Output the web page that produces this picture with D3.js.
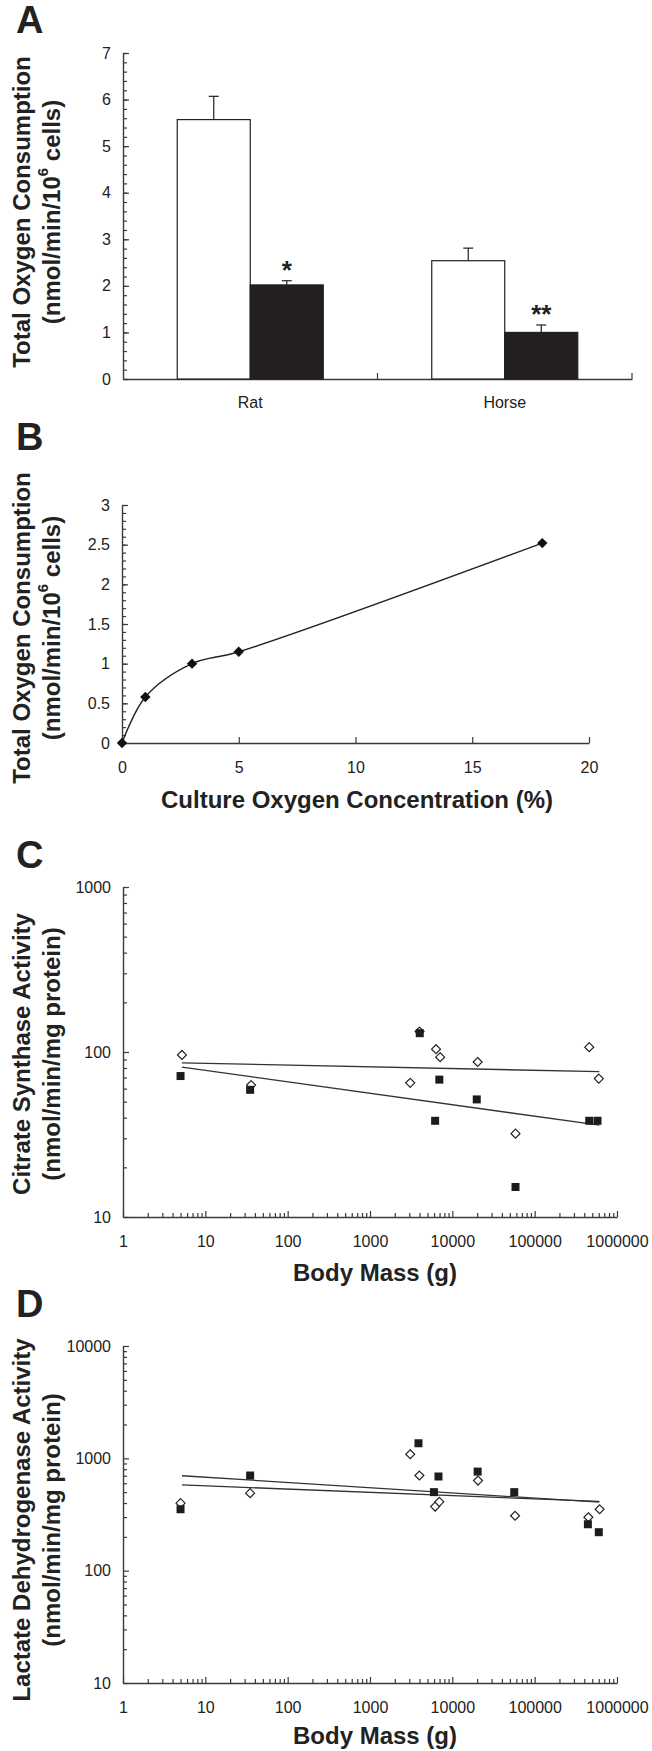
<!DOCTYPE html>
<html>
<head>
<meta charset="utf-8">
<script src="https://cdn.jsdelivr.net/npm/d3@7"></script>
<style>
  body { margin: 0; background: #fff; }
  svg { display: block; }
</style>
</head>
<body>
<svg width="652" height="1751"></svg>
<script>
// ---- data ----
// A: total O2 consumption, control (open) vs treated (filled)
const speciesA = ["Rat", "Horse"];
const seriesA = ["open", "filled"];
const valuesOpenA = [5.57, 2.54];
const valuesFilledA = [2.02, 1.00];
const errOpenA = [0.50, 0.27];
const errFilledA = [0.09, 0.16];
const sigA = ["*", "**"];

// B: O2 consumption vs culture O2 concentration
const o2Conc = [0, 1, 3, 5, 18];
const o2Cons = [0, 0.58, 1.0, 1.15, 2.52];

// C: citrate synthase vs body mass
const csOpenMass = [5.2, 36, 3080, 4000, 6340, 7110, 20300, 58500, 460000, 601000];
const csOpenVal = [96, 63, 65, 133, 104, 93, 87, 32, 107, 69];
const csFilledMass = [5.0, 35, 4020, 6180, 6950, 19800, 58500, 460000, 580000];
const csFilledVal = [71.5, 59, 130, 38.3, 68, 51.6, 15.2, 38.3, 38.3];
const csTrendMass = [5.2, 610000];
const csTrendOpen = [86, 76];
const csTrendFilled = [81, 36];

// D: lactate dehydrogenase vs body mass
const ldhOpenMass = [5.0, 35, 3080, 3980, 6180, 6950, 20500, 57800, 449000, 615000];
const ldhOpenVal = [399, 490, 1088, 703, 372, 410, 634, 308, 299, 352];
const ldhFilledMass = [5.0, 35, 3880, 5980, 6790, 20300, 56500, 443000, 601000];
const ldhFilledVal = [352, 703, 1362, 500, 689, 762, 500, 259, 220];
const ldhTrendMass = [5.2, 610000];
const ldhTrendOpen = [580, 413];
const ldhTrendFilled = [700, 407];

// ---- helpers ----
const FONT = "'Liberation Sans', Arial, Helvetica, sans-serif";
const AXIS_COLOR = "#3a3a3a";
const INK = "#222";
const svg = d3.select("svg");

function styleAxis(g) {
  g.attr("font-family", FONT).attr("font-size", 16).attr("color", AXIS_COLOR);
  g.selectAll("text").attr("fill", INK);
  g.selectAll(".tick line").attr("stroke-width", 1.2);
  g.select(".domain").attr("stroke-width", 1.4);
}

function panelLetter(letter, baseline) {
  svg.append("text").attr("x", 16).attr("y", baseline)
    .attr("font-family", FONT).attr("font-weight", "bold").attr("font-size", 38)
    .attr("fill", INK).text(letter);
}

function yTitle(cy, line1, line2, sup, line2end) {
  svg.append("text")
    .attr("transform", "translate(21," + cy + ") rotate(-90)")
    .attr("text-anchor", "middle").attr("dominant-baseline", "central")
    .attr("font-family", FONT).attr("font-weight", "bold").attr("font-size", 24)
    .attr("fill", INK).text(line1);
  const t2 = svg.append("text")
    .attr("transform", "translate(51," + cy + ") rotate(-90)")
    .attr("text-anchor", "middle").attr("dominant-baseline", "central")
    .attr("font-family", FONT).attr("font-weight", "bold").attr("font-size", 24)
    .attr("fill", INK);
  t2.append("tspan").text(line2);
  if (sup) {
    t2.append("tspan").attr("font-size", 15).attr("dy", -9).text(sup);
    t2.append("tspan").attr("dy", 9).text(line2end);
  }
}

function xTitle(cx, baseline, label) {
  svg.append("text").attr("x", cx).attr("y", baseline)
    .attr("text-anchor", "middle")
    .attr("font-family", FONT).attr("font-weight", "bold").attr("font-size", 24)
    .attr("fill", INK).text(label);
}

const diamondType = {
  draw(ctx, size) {
    const r = Math.sqrt(size / 2);
    ctx.moveTo(0, -r); ctx.lineTo(r, 0); ctx.lineTo(0, r); ctx.lineTo(-r, 0); ctx.closePath();
  }
};

function logPanel(x, y, data, leftX, bottomY) {
  // y axis, major + minor
  const yMajor = y.ticks().filter(d => Math.abs(Math.log10(d) % 1) < 1e-9);
  const yMinor = y.ticks().filter(d => Math.abs(Math.log10(d) % 1) >= 1e-9);
  svg.append("g").attr("transform", "translate(" + leftX + ",0)")
    .call(d3.axisLeft(y).tickValues(yMajor).tickSize(-6).tickSizeOuter(0)
      .tickPadding(12).tickFormat(d3.format("d")))
    .call(styleAxis);
  svg.append("g").attr("transform", "translate(" + leftX + ",0)")
    .call(d3.axisLeft(y).tickValues(yMinor).tickSize(-4).tickFormat(""))
    .call(g => g.select(".domain").remove())
    .call(styleAxis);

  const xMajor = x.ticks().filter(d => Math.abs(Math.log10(d) % 1) < 1e-9);
  const xMinor = x.ticks().filter(d => Math.abs(Math.log10(d) % 1) >= 1e-9);
  svg.append("g").attr("transform", "translate(0," + bottomY + ")")
    .call(d3.axisBottom(x).tickValues(xMajor).tickSize(-6).tickSizeOuter(0)
      .tickPadding(19).tickFormat(d3.format("d")))
    .call(styleAxis);
  svg.append("g").attr("transform", "translate(0," + bottomY + ")")
    .call(d3.axisBottom(x).tickValues(xMinor).tickSize(-4).tickFormat(""))
    .call(g => g.select(".domain").remove())
    .call(styleAxis);

  // trend lines
  const line = d3.line().x(d => x(d[0])).y(d => y(d[1]));
  [data.trendOpen, data.trendFilled].forEach(tv => {
    svg.append("path")
      .datum(data.trendMass.map((m, i) => [m, tv[i]]))
      .attr("d", line).attr("fill", "none")
      .attr("stroke", "#333").attr("stroke-width", 1.3);
  });

  // open diamonds
  svg.append("g").selectAll("path")
    .data(data.openMass.map((m, i) => [m, data.openVal[i]]))
    .join("path")
    .attr("transform", d => "translate(" + x(d[0]) + "," + y(d[1]) + ")")
    .attr("d", d3.symbol(diamondType, 40))
    .attr("fill", "#fff").attr("stroke", "#222").attr("stroke-width", 1.2);

  // filled squares
  svg.append("g").selectAll("path")
    .data(data.filledMass.map((m, i) => [m, data.filledVal[i]]))
    .join("path")
    .attr("transform", d => "translate(" + x(d[0]) + "," + y(d[1]) + ")")
    .attr("d", d3.symbol(d3.symbolSquare, 64))
    .attr("fill", "#1c1c1c");
}

// ================= Panel A =================
panelLetter("A", 33);
const xA = d3.scaleBand().domain(speciesA).range([123, 632]);
const xSubA = d3.scaleBand().domain(seriesA).range([0, xA.bandwidth()])
  .paddingInner(0).paddingOuter(0.743);
const yA = d3.scaleLinear().domain([0, 7]).range([379, 53]);

svg.append("g").attr("transform", "translate(123,0)")
  .call(d3.axisLeft(yA).ticks(7).tickSize(-6).tickSizeOuter(0).tickPadding(12))
  .call(styleAxis);
svg.append("g").attr("transform", "translate(123,0)")
  .call(d3.axisLeft(yA).tickValues(yA.ticks(35)).tickSize(-4).tickFormat(""))
  .call(g => g.select(".domain").remove())
  .call(styleAxis);
svg.append("g").attr("transform", "translate(0,379)")
  .call(d3.axisBottom(xA).tickSize(0).tickSizeOuter(0).tickPadding(18))
  .call(styleAxis);
// category boundary ticks
svg.append("g").selectAll("line").data(speciesA).join("line")
  .attr("x1", d => xA(d) + xA.bandwidth()).attr("x2", d => xA(d) + xA.bandwidth())
  .attr("y1", 379).attr("y2", 373)
  .attr("stroke", AXIS_COLOR).attr("stroke-width", 1.2);

const barsA = speciesA.flatMap((s, i) => [
  { species: s, key: "open", v: valuesOpenA[i], e: errOpenA[i] },
  { species: s, key: "filled", v: valuesFilledA[i], e: errFilledA[i], sig: sigA[i] }
]);
const cxA = d => xA(d.species) + xSubA(d.key) + xSubA.bandwidth() / 2;

svg.append("g").selectAll("rect").data(barsA).join("rect")
  .attr("x", d => xA(d.species) + xSubA(d.key))
  .attr("y", d => yA(d.v))
  .attr("width", xSubA.bandwidth())
  .attr("height", d => yA(0) - yA(d.v))
  .attr("fill", d => d.key === "open" ? "#fff" : "#231f20")
  .attr("stroke", "#231f20").attr("stroke-width", 1.2);

const errG = svg.append("g").attr("stroke", "#231f20").attr("stroke-width", 1.2);
errG.selectAll("line.v").data(barsA).join("line").attr("class", "v")
  .attr("x1", cxA).attr("x2", cxA)
  .attr("y1", d => yA(d.v)).attr("y2", d => yA(d.v + d.e));
errG.selectAll("line.c").data(barsA).join("line").attr("class", "c")
  .attr("x1", d => cxA(d) - 5).attr("x2", d => cxA(d) + 5)
  .attr("y1", d => yA(d.v + d.e)).attr("y2", d => yA(d.v + d.e));

svg.append("g").selectAll("text").data(barsA.filter(d => d.sig)).join("text")
  .attr("x", cxA).attr("y", d => yA(d.v + d.e) - 2)
  .attr("text-anchor", "middle")
  .attr("font-family", FONT).attr("font-weight", "bold").attr("font-size", 26)
  .attr("fill", INK).text(d => d.sig);

yTitle(212, "Total Oxygen Consumption", "(nmol/min/10", "6", " cells)");

// ================= Panel B =================
panelLetter("B", 450);
const xB = d3.scaleLinear().domain([0, 20]).range([122, 589]);
const yB = d3.scaleLinear().domain([0, 3]).range([743, 505]);

svg.append("g").attr("transform", "translate(122,0)")
  .call(d3.axisLeft(yB).ticks(6).tickSize(-6).tickSizeOuter(0).tickPadding(12)
    .tickFormat(d3.format("~g")))
  .call(styleAxis);
svg.append("g").attr("transform", "translate(122,0)")
  .call(d3.axisLeft(yB).tickValues(yB.ticks(30)).tickSize(-4).tickFormat(""))
  .call(g => g.select(".domain").remove())
  .call(styleAxis);
svg.append("g").attr("transform", "translate(0,743)")
  .call(d3.axisBottom(xB).ticks(4).tickSize(-6).tickSizeOuter(0).tickPadding(19))
  .call(styleAxis);

const ptsB = o2Conc.map((c, i) => [c, o2Cons[i]]);
svg.append("path").datum(ptsB)
  .attr("d", d3.line().x(d => xB(d[0])).y(d => yB(d[1])).curve(d3.curveCatmullRom.alpha(0.5)))
  .attr("fill", "none").attr("stroke", "#222").attr("stroke-width", 1.4);
svg.append("g").selectAll("path").data(ptsB).join("path")
  .attr("transform", d => "translate(" + xB(d[0]) + "," + yB(d[1]) + ")")
  .attr("d", d3.symbol(diamondType, 54))
  .attr("fill", "#111");

yTitle(628, "Total Oxygen Consumption", "(nmol/min/10", "6", " cells)");
xTitle(357, 808, "Culture Oxygen Concentration (%)");

// ================= Panel C =================
panelLetter("C", 868);
const xC = d3.scaleLog().domain([1, 1e6]).range([123, 617]);
const yC = d3.scaleLog().domain([10, 1000]).range([1217, 887]);
logPanel(xC, yC, {
  openMass: csOpenMass, openVal: csOpenVal,
  filledMass: csFilledMass, filledVal: csFilledVal,
  trendMass: csTrendMass, trendOpen: csTrendOpen, trendFilled: csTrendFilled
}, 123, 1217);
yTitle(1054, "Citrate Synthase Activity", "(nmol/min/mg protein)");
xTitle(375, 1281, "Body Mass (g)");

// ================= Panel D =================
panelLetter("D", 1317);
const xD = d3.scaleLog().domain([1, 1e6]).range([123, 617]);
const yD = d3.scaleLog().domain([10, 10000]).range([1683, 1346]);
logPanel(xD, yD, {
  openMass: ldhOpenMass, openVal: ldhOpenVal,
  filledMass: ldhFilledMass, filledVal: ldhFilledVal,
  trendMass: ldhTrendMass, trendOpen: ldhTrendOpen, trendFilled: ldhTrendFilled
}, 123, 1683);
yTitle(1520, "Lactate Dehydrogenase Activity", "(nmol/min/mg protein)");
xTitle(375, 1744, "Body Mass (g)");
</script>
</body>
</html>
